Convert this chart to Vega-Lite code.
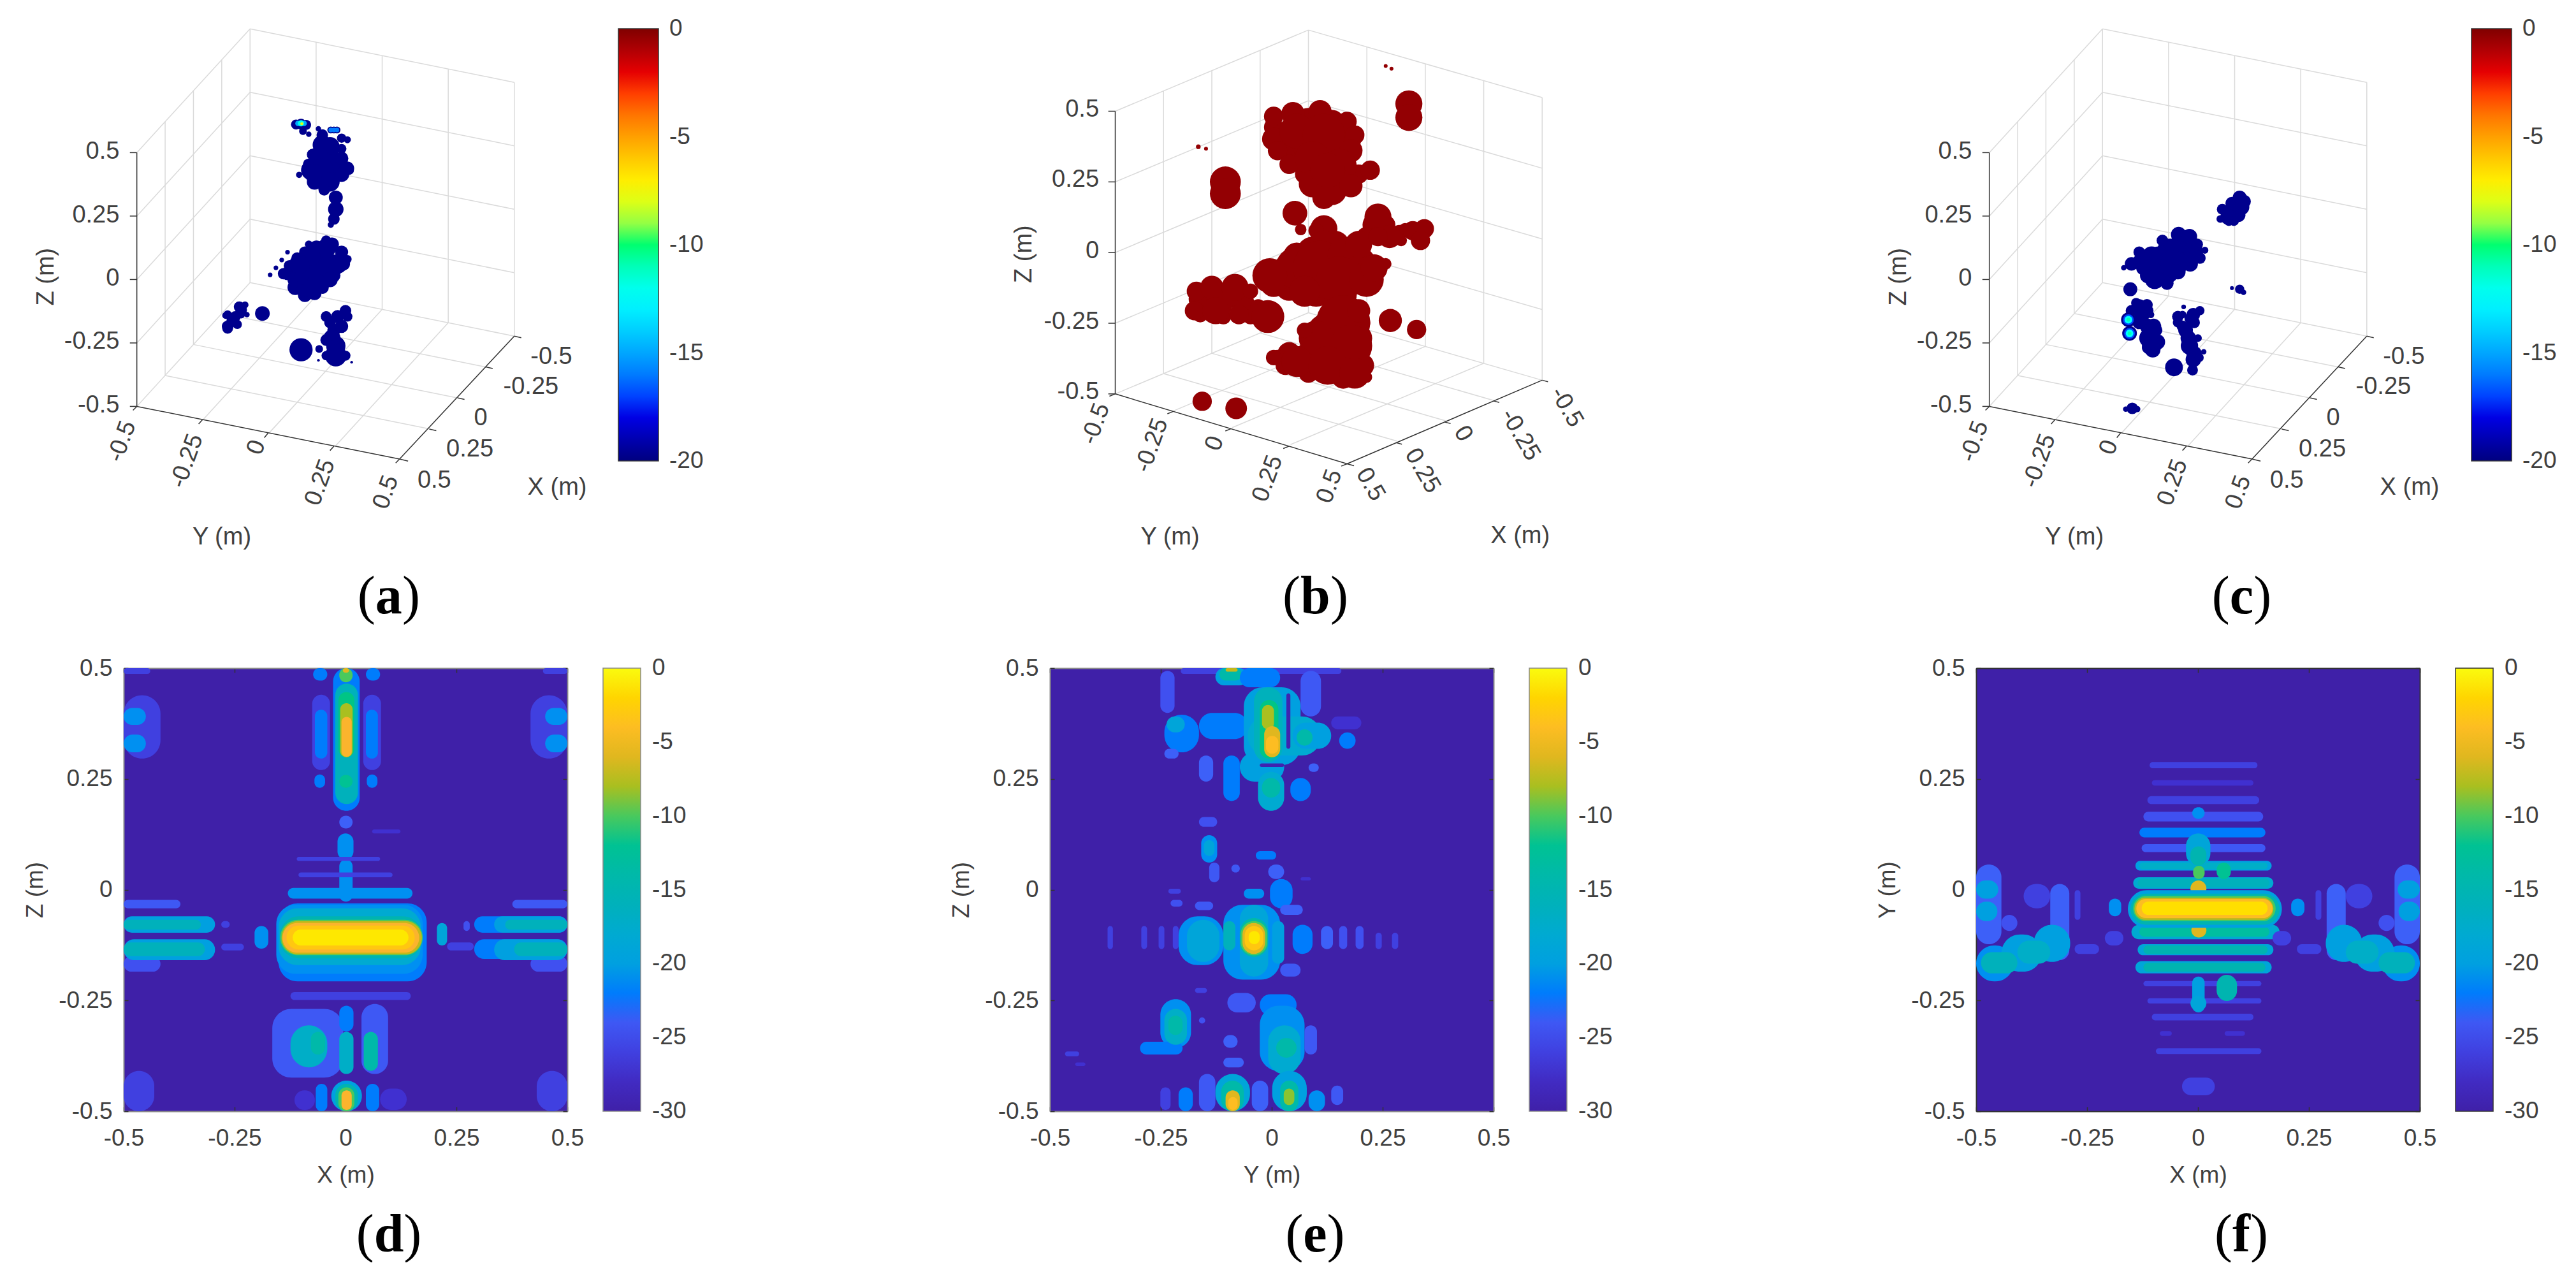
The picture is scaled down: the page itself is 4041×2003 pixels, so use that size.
{"$schema":"https://vega.github.io/schema/vega-lite/v6.json","background":"white","padding":{"left":36,"top":43,"right":0,"bottom":0},"bounds":"flush","columns":3,"spacing":{"row":105,"column":757},
"config":{"view":{"stroke":null},"font":"Liberation Sans","axis":{"grid":false,"labelFontSize":37,"titleFontSize":37,"labelColor":"#404040","titleColor":"#404040","titleFontWeight":"normal","tickColor":"#333333","tickWidth":1.5,"domainWidth":2,"labelFlush":false,"labelOverlap":false,"zindex":1},"legend":{"labelFontSize":37,"labelColor":"#404040"}},
"datasets":{
"frameAC":[{"a":183.25,"b":925.75,"c":183.25,"d":275.75},{"a":256.5,"b":846.5,"c":256.5,"d":196.5},{"a":329.75,"b":767.25,"c":329.75,"d":117.25},{"a":403,"b":688,"c":403,"d":38},{"a":574,"b":722.25,"c":574,"d":72.25},{"a":745,"b":756.5,"c":745,"d":106.5},{"a":916,"b":790.75,"c":916,"d":140.75},{"a":1087,"b":825,"c":1087,"d":175},{"a":110,"b":1005,"c":403,"d":688},{"a":110,"b":842.5,"c":403,"d":525.5},{"a":110,"b":680,"c":403,"d":363},{"a":110,"b":517.5,"c":403,"d":200.5},{"a":110,"b":355,"c":403,"d":38},{"a":403,"b":688,"c":1087,"d":825},{"a":403,"b":525.5,"c":1087,"d":662.5},{"a":403,"b":363,"c":1087,"d":500},{"a":403,"b":200.5,"c":1087,"d":337.5},{"a":403,"b":38,"c":1087,"d":175},{"a":183.25,"b":925.75,"c":867.25,"d":1062.75},{"a":256.5,"b":846.5,"c":940.5,"d":983.5},{"a":329.75,"b":767.25,"c":1013.75,"d":904.25},{"a":574,"b":722.25,"c":281,"d":1039.25},{"a":745,"b":756.5,"c":452,"d":1073.5},{"a":916,"b":790.75,"c":623,"d":1107.75}],
"axesAC":[{"a":110,"b":355,"c":110,"d":1005},{"a":110,"b":1005,"c":790,"d":1140},{"a":790,"b":1140,"c":1087,"d":825},{"a":110,"b":355,"c":92,"d":355},{"a":110,"b":517.5,"c":92,"d":517.5},{"a":110,"b":680,"c":92,"d":680},{"a":110,"b":842.5,"c":92,"d":842.5},{"a":110,"b":1005,"c":92,"d":1005},{"a":110,"b":1005,"c":100,"d":1015},{"a":280,"b":1039,"c":270,"d":1050},{"a":450,"b":1073,"c":440,"d":1085},{"a":620,"b":1107,"c":610,"d":1118},{"a":790,"b":1140,"c":780,"d":1150},{"a":1087,"b":825,"c":1105,"d":829},{"a":1013,"b":904,"c":1031,"d":908},{"a":940,"b":983,"c":958,"d":987},{"a":867,"b":1063,"c":885,"d":1067},{"a":790,"b":1140,"c":812,"d":1145}],
"frameB":[{"a":375,"b":921,"c":375,"d":197},{"a":500,"b":869,"c":500,"d":145},{"a":625,"b":817,"c":625,"d":93},{"a":750,"b":765,"c":750,"d":41},{"a":901.25,"b":808.25,"c":901.25,"d":84.25},{"a":1052.5,"b":851.5,"c":1052.5,"d":127.5},{"a":1203.75,"b":894.75,"c":1203.75,"d":170.75},{"a":1355,"b":938,"c":1355,"d":214},{"a":250,"b":973,"c":750,"d":765},{"a":250,"b":792,"c":750,"d":584},{"a":250,"b":611,"c":750,"d":403},{"a":250,"b":430,"c":750,"d":222},{"a":250,"b":249,"c":750,"d":41},{"a":750,"b":765,"c":1355,"d":938},{"a":750,"b":584,"c":1355,"d":757},{"a":750,"b":403,"c":1355,"d":576},{"a":750,"b":222,"c":1355,"d":395},{"a":750,"b":41,"c":1355,"d":214},{"a":375,"b":921,"c":980,"d":1094},{"a":500,"b":869,"c":1105,"d":1042},{"a":625,"b":817,"c":1230,"d":990},{"a":901.25,"b":808.25,"c":401.25,"d":1016.25},{"a":1052.5,"b":851.5,"c":552.5,"d":1059.5},{"a":1203.75,"b":894.75,"c":703.75,"d":1102.75}],
"axesB":[{"a":250,"b":249,"c":250,"d":973},{"a":250,"b":973,"c":850,"d":1152},{"a":850,"b":1152,"c":1355,"d":938},{"a":250,"b":249,"c":232,"d":249},{"a":250,"b":430,"c":232,"d":430},{"a":250,"b":611,"c":232,"d":611},{"a":250,"b":792,"c":232,"d":792},{"a":250,"b":973,"c":232,"d":973},{"a":250,"b":973,"c":235,"d":979},{"a":400,"b":1018,"c":385,"d":1024},{"a":550,"b":1062,"c":535,"d":1068},{"a":700,"b":1107,"c":685,"d":1113},{"a":850,"b":1152,"c":835,"d":1158},{"a":1355,"b":938,"c":1370,"d":942},{"a":1229,"b":991,"c":1244,"d":995},{"a":1103,"b":1045,"c":1118,"d":1049},{"a":977,"b":1098,"c":992,"d":1102},{"a":850,"b":1152,"c":868,"d":1157}],
"zAC":[{"t":"0.5","a":65,"b":353},{"t":"0.25","a":65,"b":516},{"t":"0","a":65,"b":678},{"t":"-0.25","a":65,"b":840},{"t":"-0.5","a":65,"b":1003}],
"hAC":[{"t":"-0.5","a":1183,"b":878},{"t":"-0.25","a":1130,"b":955},{"t":"0","a":1000,"b":1035},{"t":"0.25","a":972,"b":1115},{"t":"0.5","a":880,"b":1195},{"t":"X (m)","a":1198,"b":1213},{"t":"Y (m)","a":330,"b":1340}],
"rAC":[{"t":"-0.5","a":72,"b":1095},{"t":"-0.25","a":240,"b":1145},{"t":"0","a":420,"b":1110},{"t":"0.25","a":585,"b":1200},{"t":"0.5","a":755,"b":1225}],
"ztAC":[{"t":"Z (m)","a":-124,"b":673}],
"zB":[{"t":"0.5","a":208,"b":245},{"t":"0.25","a":208,"b":425},{"t":"0","a":208,"b":607},{"t":"-0.25","a":208,"b":788},{"t":"-0.5","a":208,"b":968}],
"hB":[{"t":"X (m)","a":1298,"b":1338},{"t":"Y (m)","a":392,"b":1340}],
"rB":[{"t":"-0.5","a":200,"b":1050},{"t":"-0.25","a":345,"b":1105},{"t":"0","a":508,"b":1100},{"t":"0.25","a":645,"b":1190},{"t":"0.5","a":805,"b":1210}],
"xB":[{"t":"-0.5","a":1418,"b":1007},{"t":"-0.25","a":1298,"b":1078},{"t":"0","a":1150,"b":1075},{"t":"0.25","a":1045,"b":1170},{"t":"0.5","a":910,"b":1205}],
"ztB":[{"t":"Z (m)","a":15,"b":615}],
"blobsA":[{"a":500,"b":665,"s":34,"v":-19.7},{"a":520,"b":700,"s":40,"v":-19.7},{"a":545,"b":720,"s":36,"v":-19.7},{"a":570,"b":715,"s":36,"v":-19.7},{"a":590,"b":700,"s":34,"v":-19.7},{"a":620,"b":670,"s":34,"v":-19.7},{"a":645,"b":640,"s":34,"v":-19.7},{"a":640,"b":610,"s":34,"v":-19.7},{"a":615,"b":590,"s":36,"v":-19.7},{"a":600,"b":580,"s":26,"v":-19.7},{"a":575,"b":600,"s":40,"v":-19.7},{"a":545,"b":610,"s":30,"v":-19.7},{"a":555,"b":590,"s":20,"v":-19.7},{"a":525,"b":625,"s":30,"v":-19.7},{"a":505,"b":645,"s":30,"v":-19.7},{"a":560,"b":660,"s":90,"v":-19.7},{"a":600,"b":650,"s":80,"v":-19.7},{"a":565,"b":360,"s":30,"v":-19.7},{"a":555,"b":385,"s":30,"v":-19.7},{"a":610,"b":340,"s":50,"v":-19.7},{"a":590,"b":310,"s":30,"v":-19.7},{"a":600,"b":370,"s":70,"v":-19.7},{"a":640,"b":345,"s":25,"v":-19.7},{"a":660,"b":400,"s":24,"v":-19.7},{"a":640,"b":410,"s":40,"v":-19.7},{"a":560,"b":400,"s":50,"v":-19.7},{"a":570,"b":430,"s":40,"v":-19.7},{"a":590,"b":420,"s":60,"v":-19.7},{"a":625,"b":400,"s":50,"v":-19.7},{"a":610,"b":385,"s":50,"v":-19.7},{"a":610,"b":790,"s":30,"v":-19.7},{"a":655,"b":775,"s":26,"v":-19.7},{"a":620,"b":810,"s":34,"v":-19.7},{"a":600,"b":835,"s":30,"v":-19.7},{"a":650,"b":875,"s":26,"v":-19.7},{"a":600,"b":875,"s":24,"v":-19.7},{"a":625,"b":850,"s":50,"v":-19.7},{"a":340,"b":772,"s":18,"v":-19.7},{"a":380,"b":758,"s":30,"v":-19.7},{"a":355,"b":785,"s":26,"v":-19.7},{"a":345,"b":800,"s":30,"v":-19.7},{"a":390,"b":745,"s":18,"v":-19.7},{"a":380,"b":770,"s":20,"v":-19.7},{"a":522,"b":283,"s":26,"v":-19.7},{"a":535,"b":282,"s":28,"v":-19.7},{"a":548,"b":284,"s":26,"v":-19.7},{"a":540,"b":300,"s":20,"v":-19.7},{"a":555,"b":308,"s":14,"v":-19.7},{"a":527,"b":280,"s":14,"v":-15},{"a":543,"b":280,"s":14,"v":-15},{"a":535,"b":280,"s":16,"v":-12},{"a":537,"b":281,"s":8,"v":-8},{"a":580,"b":294,"s":14,"v":-19.7},{"a":612,"b":297,"s":18,"v":-19.7},{"a":628,"b":297,"s":18,"v":-19.7},{"a":620,"b":297,"s":18,"v":-19.7},{"a":612,"b":297,"s":12,"v":-16},{"a":628,"b":297,"s":12,"v":-16},{"a":620,"b":297,"s":12,"v":-16},{"a":640,"b":318,"s":24,"v":-19.7},{"a":655,"b":322,"s":18,"v":-19.7},{"a":590,"b":335,"s":50,"v":-19.7},{"a":580,"b":365,"s":50,"v":-19.7},{"a":640,"b":370,"s":35,"v":-19.7},{"a":655,"b":395,"s":35,"v":-19.7},{"a":590,"b":400,"s":60,"v":-19.7},{"a":570,"b":410,"s":50,"v":-19.7},{"a":610,"b":430,"s":50,"v":-19.7},{"a":595,"b":450,"s":30,"v":-19.7},{"a":530,"b":412,"s":16,"v":-19.7},{"a":625,"b":350,"s":16,"v":-19.7},{"a":625,"b":470,"s":36,"v":-19.7},{"a":625,"b":500,"s":40,"v":-19.7},{"a":620,"b":525,"s":30,"v":-19.7},{"a":612,"b":540,"s":16,"v":-19.7},{"a":545,"b":700,"s":50,"v":-19.7},{"a":520,"b":680,"s":40,"v":-19.7},{"a":490,"b":665,"s":30,"v":-19.7},{"a":550,"b":660,"s":70,"v":-19.7},{"a":590,"b":640,"s":70,"v":-19.7},{"a":600,"b":600,"s":50,"v":-19.7},{"a":560,"b":620,"s":50,"v":-19.7},{"a":530,"b":640,"s":50,"v":-19.7},{"a":630,"b":640,"s":50,"v":-19.7},{"a":655,"b":628,"s":22,"v":-19.7},{"a":610,"b":680,"s":40,"v":-19.7},{"a":575,"b":690,"s":50,"v":-19.7},{"a":455,"b":668,"s":12,"v":-19.7},{"a":470,"b":650,"s":12,"v":-19.7},{"a":485,"b":630,"s":12,"v":-19.7},{"a":500,"b":610,"s":12,"v":-19.7},{"a":345,"b":770,"s":22,"v":-19.7},{"a":375,"b":750,"s":28,"v":-19.7},{"a":365,"b":775,"s":28,"v":-19.7},{"a":395,"b":770,"s":14,"v":-19.7},{"a":345,"b":805,"s":28,"v":-19.7},{"a":370,"b":795,"s":24,"v":-19.7},{"a":435,"b":767,"s":38,"v":-19.7},{"a":600,"b":775,"s":28,"v":-19.7},{"a":650,"b":760,"s":30,"v":-19.7},{"a":630,"b":775,"s":34,"v":-19.7},{"a":640,"b":800,"s":34,"v":-19.7},{"a":615,"b":830,"s":44,"v":-19.7},{"a":620,"b":850,"s":30,"v":-19.7},{"a":625,"b":875,"s":56,"v":-19.7},{"a":535,"b":860,"s":60,"v":-19.7},{"a":582,"b":858,"s":20,"v":-19.7},{"a":666,"b":892,"s":7,"v":-19.7},{"a":580,"b":887,"s":7,"v":-19.7}],
"blobsC":[{"a":560,"b":650,"s":90,"v":-19.7},{"a":600,"b":620,"s":80,"v":-19.7},{"a":530,"b":620,"s":50,"v":-19.7},{"a":510,"b":650,"s":40,"v":-19.7},{"a":500,"b":630,"s":34,"v":-19.7},{"a":520,"b":670,"s":40,"v":-19.7},{"a":570,"b":690,"s":34,"v":-19.7},{"a":630,"b":640,"s":40,"v":-19.7},{"a":655,"b":625,"s":30,"v":-19.7},{"a":600,"b":565,"s":40,"v":-19.7},{"a":745,"b":505,"s":40,"v":-19.7},{"a":735,"b":500,"s":30,"v":-19.7},{"a":770,"b":480,"s":34,"v":-19.7},{"a":755,"b":515,"s":36,"v":-19.7},{"a":730,"b":530,"s":26,"v":-19.7},{"a":505,"b":770,"s":40,"v":-19.7},{"a":490,"b":740,"s":26,"v":-19.7},{"a":520,"b":760,"s":30,"v":-19.7},{"a":520,"b":800,"s":40,"v":-19.7},{"a":535,"b":800,"s":40,"v":-19.7},{"a":530,"b":850,"s":50,"v":-19.7},{"a":545,"b":840,"s":40,"v":-19.7},{"a":520,"b":855,"s":30,"v":-19.7},{"a":610,"b":800,"s":30,"v":-19.7},{"a":640,"b":790,"s":30,"v":-19.7},{"a":625,"b":830,"s":40,"v":-19.7},{"a":640,"b":870,"s":40,"v":-19.7},{"a":610,"b":770,"s":20,"v":-19.7},{"a":655,"b":760,"s":24,"v":-19.7},{"a":630,"b":780,"s":30,"v":-19.7},{"a":650,"b":830,"s":20,"v":-19.7},{"a":665,"b":865,"s":14,"v":-19.7},{"a":758,"b":470,"s":36,"v":-19.7},{"a":738,"b":485,"s":34,"v":-19.7},{"a":713,"b":500,"s":28,"v":-19.7},{"a":763,"b":495,"s":40,"v":-19.7},{"a":728,"b":520,"s":40,"v":-19.7},{"a":708,"b":525,"s":20,"v":-19.7},{"a":743,"b":530,"s":26,"v":-19.7},{"a":758,"b":705,"s":24,"v":-19.7},{"a":738,"b":702,"s":10,"v":-19.7},{"a":768,"b":713,"s":14,"v":-19.7},{"a":608,"b":590,"s":60,"v":-19.7},{"a":578,"b":610,"s":70,"v":-19.7},{"a":548,"b":630,"s":70,"v":-19.7},{"a":518,"b":640,"s":60,"v":-19.7},{"a":588,"b":640,"s":70,"v":-19.7},{"a":638,"b":610,"s":50,"v":-19.7},{"a":628,"b":570,"s":40,"v":-19.7},{"a":498,"b":610,"s":30,"v":-19.7},{"a":478,"b":640,"s":35,"v":-19.7},{"a":458,"b":650,"s":14,"v":-19.7},{"a":538,"b":680,"s":50,"v":-19.7},{"a":598,"b":660,"s":40,"v":-19.7},{"a":668,"b":605,"s":18,"v":-19.7},{"a":648,"b":590,"s":30,"v":-19.7},{"a":558,"b":580,"s":30,"v":-19.7},{"a":475,"b":705,"s":36,"v":-19.7},{"a":498,"b":750,"s":40,"v":-19.7},{"a":518,"b":745,"s":30,"v":-19.7},{"a":478,"b":760,"s":30,"v":-19.7},{"a":528,"b":770,"s":18,"v":-19.7},{"a":498,"b":790,"s":35,"v":-19.7},{"a":523,"b":830,"s":50,"v":-19.7},{"a":533,"b":860,"s":40,"v":-19.7},{"a":543,"b":810,"s":30,"v":-19.7},{"a":470,"b":783,"s":38,"v":-19.7},{"a":473,"b":818,"s":38,"v":-19.7},{"a":470,"b":783,"s":28,"v":-17},{"a":473,"b":818,"s":28,"v":-17},{"a":470,"b":783,"s":20,"v":-12.5},{"a":473,"b":818,"s":20,"v":-12.5},{"a":470,"b":783,"s":10,"v":-11},{"a":473,"b":818,"s":10,"v":-11},{"a":598,"b":775,"s":30,"v":-19.7},{"a":638,"b":770,"s":35,"v":-19.7},{"a":613,"b":750,"s":12,"v":-19.7},{"a":618,"b":810,"s":38,"v":-19.7},{"a":628,"b":850,"s":45,"v":-19.7},{"a":638,"b":885,"s":40,"v":-19.7},{"a":653,"b":880,"s":24,"v":-19.7},{"a":636,"b":912,"s":28,"v":-19.7},{"a":588,"b":905,"s":46,"v":-19.7},{"a":598,"b":790,"s":26,"v":-19.7},{"a":480,"b":1010,"s":30,"v":-19.7},{"a":463,"b":1012,"s":14,"v":-19.7},{"a":493,"b":1012,"s":16,"v":-19.7}],
"blobsB":[{"a":750,"b":280,"s":80,"v":-0.4},{"a":810,"b":280,"s":70,"v":-0.4},{"a":700,"b":330,"s":70,"v":-0.4},{"a":850,"b":330,"s":70,"v":-0.4},{"a":780,"b":340,"s":110,"v":-0.4},{"a":720,"b":370,"s":60,"v":-0.4},{"a":840,"b":420,"s":80,"v":-0.4},{"a":740,"b":410,"s":50,"v":-0.4},{"a":880,"b":410,"s":50,"v":-0.4},{"a":790,"b":470,"s":60,"v":-0.4},{"a":700,"b":350,"s":40,"v":-0.4},{"a":660,"b":290,"s":50,"v":-0.4},{"a":810,"b":420,"s":100,"v":-0.4},{"a":750,"b":340,"s":80,"v":-0.4},{"a":660,"b":690,"s":70,"v":-0.4},{"a":700,"b":700,"s":70,"v":-0.4},{"a":720,"b":620,"s":70,"v":-0.4},{"a":770,"b":700,"s":100,"v":-0.4},{"a":840,"b":720,"s":70,"v":-0.4},{"a":880,"b":640,"s":90,"v":-0.4},{"a":760,"b":610,"s":80,"v":-0.4},{"a":820,"b":590,"s":70,"v":-0.4},{"a":800,"b":670,"s":120,"v":-0.4},{"a":700,"b":660,"s":90,"v":-0.4},{"a":950,"b":640,"s":30,"v":-0.4},{"a":920,"b":540,"s":60,"v":-0.4},{"a":900,"b":570,"s":50,"v":-0.4},{"a":950,"b":540,"s":50,"v":-0.4},{"a":985,"b":560,"s":40,"v":-0.4},{"a":1000,"b":550,"s":30,"v":-0.4},{"a":1040,"b":560,"s":50,"v":-0.4},{"a":990,"b":580,"s":30,"v":-0.4},{"a":470,"b":730,"s":60,"v":-0.4},{"a":530,"b":720,"s":60,"v":-0.4},{"a":580,"b":740,"s":60,"v":-0.4},{"a":520,"b":740,"s":70,"v":-0.4},{"a":470,"b":770,"s":40,"v":-0.4},{"a":530,"b":775,"s":40,"v":-0.4},{"a":620,"b":750,"s":40,"v":-0.4},{"a":600,"b":775,"s":40,"v":-0.4},{"a":830,"b":750,"s":50,"v":-0.4},{"a":870,"b":790,"s":80,"v":-0.4},{"a":800,"b":820,"s":110,"v":-0.4},{"a":880,"b":830,"s":70,"v":-0.4},{"a":820,"b":880,"s":120,"v":-0.4},{"a":760,"b":880,"s":90,"v":-0.4},{"a":700,"b":870,"s":60,"v":-0.4},{"a":750,"b":920,"s":50,"v":-0.4},{"a":840,"b":930,"s":60,"v":-0.4},{"a":890,"b":900,"s":60,"v":-0.4},{"a":690,"b":900,"s":50,"v":-0.4},{"a":670,"b":880,"s":40,"v":-0.4},{"a":760,"b":850,"s":60,"v":-0.4},{"a":900,"b":930,"s":30,"v":-0.4},{"a":660,"b":262,"s":50,"v":-0.4},{"a":710,"b":255,"s":60,"v":-0.4},{"a":780,"b":250,"s":60,"v":-0.4},{"a":850,"b":275,"s":50,"v":-0.4},{"a":660,"b":320,"s":60,"v":-0.4},{"a":870,"b":310,"s":50,"v":-0.4},{"a":670,"b":350,"s":50,"v":-0.4},{"a":720,"b":300,"s":90,"v":-0.4},{"a":790,"b":310,"s":110,"v":-0.4},{"a":860,"b":350,"s":60,"v":-0.4},{"a":700,"b":385,"s":50,"v":-0.4},{"a":760,"b":370,"s":90,"v":-0.4},{"a":830,"b":390,"s":90,"v":-0.4},{"a":910,"b":400,"s":50,"v":-0.4},{"a":760,"b":435,"s":70,"v":-0.4},{"a":810,"b":450,"s":80,"v":-0.4},{"a":860,"b":440,"s":60,"v":-0.4},{"a":800,"b":400,"s":90,"v":-0.4},{"a":715,"b":510,"s":64,"v":-0.4},{"a":730,"b":552,"s":30,"v":-0.4},{"a":790,"b":550,"s":70,"v":-0.4},{"a":770,"b":555,"s":40,"v":-0.4},{"a":1010,"b":230,"s":70,"v":-0.4},{"a":1010,"b":265,"s":70,"v":-0.4},{"a":535,"b":430,"s":80,"v":-0.4},{"a":535,"b":460,"s":80,"v":-0.4},{"a":465,"b":340,"s":12,"v":-0.4},{"a":485,"b":345,"s":10,"v":-0.4},{"a":965,"b":140,"s":10,"v":-0.4},{"a":950,"b":133,"s":10,"v":-0.4},{"a":790,"b":600,"s":90,"v":-0.4},{"a":720,"b":650,"s":110,"v":-0.4},{"a":650,"b":670,"s":90,"v":-0.4},{"a":780,"b":650,"s":140,"v":-0.4},{"a":850,"b":620,"s":100,"v":-0.4},{"a":830,"b":680,"s":120,"v":-0.4},{"a":900,"b":680,"s":90,"v":-0.4},{"a":740,"b":710,"s":80,"v":-0.4},{"a":920,"b":650,"s":70,"v":-0.4},{"a":880,"b":590,"s":70,"v":-0.4},{"a":930,"b":520,"s":70,"v":-0.4},{"a":960,"b":570,"s":60,"v":-0.4},{"a":1020,"b":555,"s":50,"v":-0.4},{"a":1050,"b":550,"s":50,"v":-0.4},{"a":1040,"b":580,"s":50,"v":-0.4},{"a":930,"b":570,"s":50,"v":-0.4},{"a":460,"b":710,"s":50,"v":-0.4},{"a":500,"b":700,"s":60,"v":-0.4},{"a":560,"b":700,"s":70,"v":-0.4},{"a":600,"b":710,"s":40,"v":-0.4},{"a":455,"b":760,"s":50,"v":-0.4},{"a":510,"b":760,"s":70,"v":-0.4},{"a":570,"b":770,"s":50,"v":-0.4},{"a":645,"b":775,"s":85,"v":-0.4},{"a":840,"b":790,"s":140,"v":-0.4},{"a":770,"b":830,"s":90,"v":-0.4},{"a":860,"b":850,"s":110,"v":-0.4},{"a":720,"b":890,"s":80,"v":-0.4},{"a":800,"b":900,"s":100,"v":-0.4},{"a":870,"b":920,"s":80,"v":-0.4},{"a":660,"b":880,"s":40,"v":-0.4},{"a":740,"b":810,"s":40,"v":-0.4},{"a":880,"b":760,"s":60,"v":-0.4},{"a":962,"b":785,"s":60,"v":-0.4},{"a":1030,"b":808,"s":50,"v":-0.4},{"a":475,"b":992,"s":50,"v":-0.4},{"a":563,"b":1010,"s":56,"v":-0.4}],
"heatD":[{"a":-0.5,"b":-0.417,"c":0.439,"d":0.296,"v":-26},{"a":0.417,"b":0.5,"c":0.439,"d":0.296,"v":-26},{"a":-0.5,"b":-0.45,"c":0.41,"d":0.372,"v":-21},{"a":-0.5,"b":-0.45,"c":0.35,"d":0.31,"v":-21},{"a":0.45,"b":0.5,"c":0.41,"d":0.372,"v":-21},{"a":0.45,"b":0.5,"c":0.35,"d":0.31,"v":-21},{"a":-0.5,"b":-0.431,"c":-0.409,"d":-0.5,"v":-26},{"a":0.431,"b":0.5,"c":-0.409,"d":-0.5,"v":-26},{"a":-0.5,"b":-0.44,"c":0.5,"d":0.487,"v":-26},{"a":0.445,"b":0.5,"c":0.5,"d":0.487,"v":-26},{"a":-0.075,"b":-0.035,"c":0.44,"d":0.27,"v":-26},{"a":0.04,"b":0.08,"c":0.44,"d":0.27,"v":-26},{"a":-0.069,"b":-0.041,"c":0.406,"d":0.296,"v":-22},{"a":0.046,"b":0.073,"c":0.406,"d":0.296,"v":-22},{"a":-0.07,"b":-0.046,"c":0.26,"d":0.23,"v":-22},{"a":0.048,"b":0.072,"c":0.26,"d":0.23,"v":-22},{"a":-0.073,"b":-0.041,"c":0.5,"d":0.472,"v":-22},{"a":0.046,"b":0.078,"c":0.5,"d":0.472,"v":-22},{"a":-0.028,"b":0.032,"c":0.5,"d":0.178,"v":-22},{"a":-0.023,"b":0.028,"c":0.465,"d":0.193,"v":-16},{"a":-0.016,"b":0.02,"c":0.446,"d":0.299,"v":-11},{"a":-0.012,"b":0.016,"c":0.421,"d":0.299,"v":-8},{"a":-0.009,"b":0.014,"c":0.39,"d":0.3,"v":-5},{"a":-0.014,"b":0.016,"c":0.5,"d":0.468,"v":-10},{"a":-0.006,"b":0.008,"c":0.5,"d":0.49,"v":-6},{"a":-0.014,"b":0.016,"c":0.259,"d":0.23,"v":-12},{"a":-0.014,"b":0.016,"c":0.167,"d":0.138,"v":-23},{"a":-0.018,"b":0.018,"c":0.127,"d":0.068,"v":-21},{"a":-0.014,"b":0.016,"c":0.068,"d":-0.027,"v":-21},{"a":-0.13,"b":0.151,"c":0.004,"d":-0.02,"v":-21},{"a":-0.11,"b":0.078,"c":0.074,"d":0.065,"v":-26},{"a":-0.106,"b":0.106,"c":0.039,"d":0.028,"v":-26},{"a":0.06,"b":0.124,"c":0.136,"d":0.127,"v":-27},{"a":-0.5,"b":-0.372,"c":-0.023,"d":-0.042,"v":-24},{"a":-0.5,"b":-0.417,"c":-0.15,"d":-0.185,"v":-25},{"a":-0.5,"b":-0.294,"c":-0.06,"d":-0.097,"v":-20},{"a":-0.5,"b":-0.326,"c":-0.068,"d":-0.09,"v":-16},{"a":-0.5,"b":-0.294,"c":-0.112,"d":-0.159,"v":-20},{"a":-0.5,"b":-0.317,"c":-0.119,"d":-0.15,"v":-16},{"a":0.376,"b":0.5,"c":-0.023,"d":-0.042,"v":-24},{"a":0.417,"b":0.5,"c":-0.15,"d":-0.185,"v":-25},{"a":0.29,"b":0.5,"c":-0.06,"d":-0.097,"v":-22},{"a":0.335,"b":0.5,"c":-0.06,"d":-0.097,"v":-20},{"a":0.36,"b":0.5,"c":-0.068,"d":-0.09,"v":-16},{"a":0.29,"b":0.5,"c":-0.112,"d":-0.156,"v":-22},{"a":0.335,"b":0.5,"c":-0.112,"d":-0.159,"v":-20},{"a":0.38,"b":0.5,"c":-0.119,"d":-0.15,"v":-16},{"a":-0.205,"b":-0.174,"c":-0.082,"d":-0.133,"v":-21},{"a":0.206,"b":0.229,"c":-0.075,"d":-0.126,"v":-19},{"a":0.266,"b":0.28,"c":-0.071,"d":-0.093,"v":-25},{"a":-0.28,"b":-0.261,"c":-0.071,"d":-0.086,"v":-26},{"a":-0.28,"b":-0.229,"c":-0.122,"d":-0.137,"v":-26},{"a":0.229,"b":0.289,"c":-0.119,"d":-0.137,"v":-26},{"a":-0.151,"b":0.183,"c":-0.031,"d":-0.207,"v":-22},{"a":-0.156,"b":0.174,"c":-0.034,"d":-0.19,"v":-21},{"a":-0.151,"b":0.17,"c":-0.042,"d":-0.17,"v":-18},{"a":-0.148,"b":0.172,"c":-0.06,"d":-0.155,"v":-15},{"a":-0.147,"b":0.174,"c":-0.068,"d":-0.148,"v":-10},{"a":-0.144,"b":0.172,"c":-0.071,"d":-0.146,"v":-7},{"a":-0.142,"b":0.166,"c":-0.075,"d":-0.142,"v":-5},{"a":-0.133,"b":0.156,"c":-0.081,"d":-0.135,"v":-3},{"a":-0.119,"b":0.142,"c":-0.09,"d":-0.126,"v":-1},{"a":-0.124,"b":0.147,"c":-0.231,"d":-0.249,"v":-26},{"a":-0.165,"b":-0.005,"c":-0.269,"d":-0.424,"v":-24},{"a":0.036,"b":0.096,"c":-0.258,"d":-0.416,"v":-24},{"a":-0.014,"b":0.018,"c":-0.262,"d":-0.32,"v":-22},{"a":-0.124,"b":-0.041,"c":-0.306,"d":-0.401,"v":-17},{"a":-0.078,"b":-0.046,"c":-0.321,"d":-0.372,"v":-14},{"a":0.041,"b":0.073,"c":-0.321,"d":-0.409,"v":-14},{"a":-0.014,"b":0.018,"c":-0.321,"d":-0.416,"v":-17},{"a":-0.115,"b":-0.069,"c":-0.453,"d":-0.497,"v":-27},{"a":0.078,"b":0.138,"c":-0.449,"d":-0.497,"v":-27},{"a":-0.067,"b":-0.041,"c":-0.438,"d":-0.5,"v":-22},{"a":0.046,"b":0.076,"c":-0.438,"d":-0.5,"v":-22},{"a":-0.032,"b":0.037,"c":-0.431,"d":-0.5,"v":-20},{"a":-0.023,"b":0.028,"c":-0.438,"d":-0.5,"v":-15},{"a":-0.016,"b":0.02,"c":-0.446,"d":-0.5,"v":-10},{"a":-0.009,"b":0.014,"c":-0.453,"d":-0.497,"v":-5}],
"heatE":[{"a":-0.251,"b":-0.219,"c":0.494,"d":0.399,"v":-25},{"a":-0.242,"b":-0.164,"c":0.395,"d":0.31,"v":-22},{"a":-0.237,"b":-0.196,"c":0.391,"d":0.355,"v":-19},{"a":-0.242,"b":-0.21,"c":0.318,"d":0.296,"v":-23},{"a":-0.164,"b":-0.054,"c":0.399,"d":0.34,"v":-22},{"a":-0.205,"b":0.157,"c":0.5,"d":0.487,"v":-26},{"a":0.065,"b":0.111,"c":0.494,"d":0.391,"v":-24},{"a":-0.127,"b":-0.054,"c":0.5,"d":0.461,"v":-20},{"a":-0.118,"b":-0.068,"c":0.5,"d":0.472,"v":-14},{"a":-0.104,"b":-0.077,"c":0.5,"d":0.492,"v":-7},{"a":-0.072,"b":0.019,"c":0.5,"d":0.457,"v":-22},{"a":-0.063,"b":0.065,"c":0.457,"d":0.281,"v":-20},{"a":-0.054,"b":0.111,"c":0.391,"d":0.303,"v":-18},{"a":0.047,"b":0.134,"c":0.377,"d":0.318,"v":-20},{"a":0.056,"b":0.092,"c":0.362,"d":0.325,"v":-14},{"a":-0.072,"b":0.028,"c":0.31,"d":0.244,"v":-20},{"a":-0.031,"b":0.028,"c":0.266,"d":0.178,"v":-18},{"a":-0.022,"b":0.019,"c":0.252,"d":0.208,"v":-14},{"a":-0.109,"b":-0.072,"c":0.303,"d":0.2,"v":-22},{"a":-0.164,"b":-0.132,"c":0.303,"d":0.244,"v":-23},{"a":0.042,"b":0.088,"c":0.252,"d":0.2,"v":-22},{"a":0.083,"b":0.106,"c":0.285,"d":0.266,"v":-23},{"a":0.152,"b":0.189,"c":0.355,"d":0.318,"v":-22},{"a":0.134,"b":0.202,"c":0.391,"d":0.362,"v":-27},{"a":0.033,"b":0.042,"c":0.443,"d":0.318,"v":-29.5},{"a":-0.027,"b":0.028,"c":0.285,"d":0.277,"v":-29.5},{"a":-0.04,"b":0.024,"c":0.457,"d":0.288,"v":-16},{"a":-0.027,"b":0.015,"c":0.428,"d":0.296,"v":-11},{"a":-0.022,"b":0.005,"c":0.417,"d":0.362,"v":-8},{"a":-0.017,"b":0.019,"c":0.369,"d":0.299,"v":-6},{"a":-0.013,"b":0.015,"c":0.347,"d":0.307,"v":-4},{"a":-0.164,"b":-0.123,"c":0.164,"d":0.142,"v":-25},{"a":-0.159,"b":-0.123,"c":0.123,"d":0.061,"v":-21},{"a":-0.153,"b":-0.129,"c":0.112,"d":0.076,"v":-19},{"a":-0.141,"b":-0.118,"c":0.061,"d":0.017,"v":-24},{"a":-0.036,"b":0.01,"c":0.087,"d":0.068,"v":-22},{"a":-0.008,"b":0.028,"c":0.057,"d":0.024,"v":-23},{"a":-0.004,"b":0.047,"c":0.024,"d":-0.042,"v":-22},{"a":0.019,"b":0.07,"c":-0.034,"d":-0.057,"v":-23},{"a":-0.063,"b":-0.017,"c":0.002,"d":-0.02,"v":-21},{"a":-0.091,"b":-0.072,"c":0.057,"d":0.039,"v":-24},{"a":-0.233,"b":-0.205,"c":0.002,"d":-0.009,"v":-26},{"a":-0.228,"b":-0.201,"c":-0.023,"d":-0.038,"v":-25},{"a":-0.173,"b":-0.132,"c":-0.027,"d":-0.046,"v":-24},{"a":0.065,"b":0.088,"c":0.028,"d":0.021,"v":-27},{"a":-0.37,"b":-0.358,"c":-0.082,"d":-0.134,"v":-26},{"a":-0.294,"b":-0.281,"c":-0.082,"d":-0.134,"v":-26},{"a":-0.255,"b":-0.242,"c":-0.082,"d":-0.134,"v":-26},{"a":-0.223,"b":-0.21,"c":-0.082,"d":-0.134,"v":-26},{"a":0.111,"b":0.138,"c":-0.082,"d":-0.134,"v":-23},{"a":0.152,"b":0.17,"c":-0.082,"d":-0.134,"v":-25},{"a":0.189,"b":0.207,"c":-0.082,"d":-0.134,"v":-25},{"a":0.234,"b":0.248,"c":-0.097,"d":-0.134,"v":-26},{"a":0.271,"b":0.285,"c":-0.097,"d":-0.134,"v":-26},{"a":-0.21,"b":-0.109,"c":-0.06,"d":-0.17,"v":-21},{"a":-0.191,"b":-0.118,"c":-0.068,"d":-0.163,"v":-19},{"a":-0.109,"b":0.019,"c":-0.034,"d":-0.203,"v":-21},{"a":-0.072,"b":-0.008,"c":-0.034,"d":-0.196,"v":-19},{"a":0.001,"b":0.028,"c":-0.071,"d":-0.167,"v":-20},{"a":0.047,"b":0.092,"c":-0.079,"d":-0.145,"v":-22},{"a":0.019,"b":0.065,"c":-0.167,"d":-0.196,"v":-24},{"a":-0.109,"b":-0.082,"c":-0.071,"d":-0.137,"v":-16},{"a":-0.072,"b":-0.008,"c":-0.064,"d":-0.152,"v":-14},{"a":-0.07,"b":-0.01,"c":-0.071,"d":-0.148,"v":-10},{"a":-0.066,"b":-0.015,"c":-0.075,"d":-0.145,"v":-6},{"a":-0.061,"b":-0.019,"c":-0.082,"d":-0.137,"v":-3},{"a":-0.052,"b":-0.027,"c":-0.093,"d":-0.123,"v":-1},{"a":-0.1,"b":-0.036,"c":-0.233,"d":-0.277,"v":-24},{"a":-0.173,"b":-0.146,"c":-0.222,"d":-0.233,"v":-26},{"a":-0.027,"b":0.056,"c":-0.236,"d":-0.284,"v":-22},{"a":-0.027,"b":0.074,"c":-0.262,"d":-0.409,"v":-21},{"a":-0.008,"b":0.065,"c":-0.306,"d":-0.416,"v":-18},{"a":0.01,"b":0.056,"c":-0.335,"d":-0.379,"v":-14},{"a":-0.251,"b":-0.182,"c":-0.247,"d":-0.357,"v":-21},{"a":-0.297,"b":-0.201,"c":-0.343,"d":-0.372,"v":-22},{"a":-0.242,"b":-0.191,"c":-0.269,"d":-0.35,"v":-17},{"a":-0.233,"b":-0.201,"c":-0.284,"d":-0.328,"v":-14},{"a":-0.466,"b":-0.434,"c":-0.365,"d":-0.376,"v":-26},{"a":-0.443,"b":-0.42,"c":-0.39,"d":-0.398,"v":-27},{"a":-0.109,"b":-0.077,"c":-0.328,"d":-0.357,"v":-23},{"a":-0.109,"b":-0.063,"c":-0.379,"d":-0.401,"v":-23},{"a":0.074,"b":0.102,"c":-0.306,"d":-0.372,"v":-24},{"a":-0.164,"b":-0.15,"c":-0.288,"d":-0.302,"v":-25},{"a":-0.164,"b":-0.127,"c":-0.416,"d":-0.5,"v":-24},{"a":-0.21,"b":-0.178,"c":-0.446,"d":-0.5,"v":-22},{"a":-0.251,"b":-0.228,"c":-0.446,"d":-0.497,"v":-26},{"a":-0.045,"b":-0.008,"c":-0.431,"d":-0.5,"v":-23},{"a":0.083,"b":0.12,"c":-0.453,"d":-0.5,"v":-21},{"a":0.134,"b":0.161,"c":-0.442,"d":-0.486,"v":-24},{"a":0.001,"b":0.079,"c":-0.409,"d":-0.5,"v":-20},{"a":0.019,"b":0.06,"c":-0.431,"d":-0.5,"v":-14},{"a":0.027,"b":0.051,"c":-0.449,"d":-0.486,"v":-9},{"a":-0.127,"b":-0.049,"c":-0.416,"d":-0.5,"v":-19},{"a":-0.114,"b":-0.063,"c":-0.431,"d":-0.5,"v":-14},{"a":-0.104,"b":-0.072,"c":-0.453,"d":-0.5,"v":-6},{"a":-0.098,"b":-0.077,"c":-0.468,"d":-0.497,"v":-4}],
"heatF":[{"a":-0.109,"b":0.134,"c":0.288,"d":0.274,"v":-26},{"a":-0.104,"b":0.125,"c":0.247,"d":0.235,"v":-27},{"a":-0.114,"b":0.138,"c":0.211,"d":0.193,"v":-26},{"a":-0.123,"b":0.147,"c":0.176,"d":0.154,"v":-25},{"a":-0.132,"b":0.152,"c":0.14,"d":0.118,"v":-22},{"a":-0.127,"b":0.152,"c":0.103,"d":0.085,"v":-24},{"a":-0.141,"b":0.166,"c":0.065,"d":0.043,"v":-20},{"a":-0.132,"b":0.157,"c":0.061,"d":0.046,"v":-17},{"a":-0.146,"b":0.17,"c":0.028,"d":0.002,"v":-18},{"a":-0.136,"b":0.161,"c":0.024,"d":0.006,"v":-16},{"a":-0.013,"b":0.015,"c":0.186,"d":0.16,"v":-21},{"a":-0.027,"b":0.028,"c":0.127,"d":0.054,"v":-19},{"a":-0.017,"b":0.019,"c":0.098,"d":0.054,"v":-15},{"a":-0.011,"b":0.015,"c":0.054,"d":0.024,"v":-10},{"a":0.042,"b":0.074,"c":0.061,"d":0.024,"v":-12},{"a":-0.017,"b":0.019,"c":0.021,"d":-0.016,"v":-6},{"a":-0.15,"b":0.184,"c":-0.079,"d":-0.112,"v":-18},{"a":-0.132,"b":0.161,"c":-0.084,"d":-0.106,"v":-13},{"a":-0.136,"b":0.17,"c":-0.123,"d":-0.148,"v":-19},{"a":-0.123,"b":0.157,"c":-0.126,"d":-0.145,"v":-15},{"a":-0.141,"b":0.166,"c":-0.161,"d":-0.189,"v":-19},{"a":-0.123,"b":0.152,"c":-0.165,"d":-0.185,"v":-15},{"a":-0.015,"b":0.019,"c":-0.075,"d":-0.108,"v":-6},{"a":-0.158,"b":0.189,"c":-0.001,"d":-0.086,"v":-20},{"a":-0.152,"b":0.184,"c":-0.009,"d":-0.079,"v":-15},{"a":-0.146,"b":0.175,"c":-0.014,"d":-0.071,"v":-10},{"a":-0.143,"b":0.17,"c":-0.018,"d":-0.068,"v":-7},{"a":-0.139,"b":0.168,"c":-0.021,"d":-0.064,"v":-4},{"a":-0.127,"b":0.157,"c":-0.027,"d":-0.057,"v":-1.5},{"a":-0.123,"b":0.143,"c":-0.206,"d":-0.218,"v":-26},{"a":-0.114,"b":0.143,"c":-0.245,"d":-0.257,"v":-26},{"a":-0.104,"b":0.125,"c":-0.28,"d":-0.295,"v":-26},{"a":-0.086,"b":-0.059,"c":-0.319,"d":-0.33,"v":-27},{"a":0.06,"b":0.106,"c":-0.319,"d":-0.33,"v":-27},{"a":-0.095,"b":0.143,"c":-0.358,"d":-0.371,"v":-26},{"a":-0.013,"b":0.015,"c":-0.196,"d":-0.277,"v":-20},{"a":-0.017,"b":0.019,"c":-0.24,"d":-0.273,"v":-19},{"a":0.042,"b":0.088,"c":-0.192,"d":-0.251,"v":-15},{"a":-0.036,"b":0.038,"c":-0.424,"d":-0.464,"v":-26},{"a":-0.5,"b":-0.443,"c":0.057,"d":-0.123,"v":-23},{"a":-0.443,"b":-0.407,"c":-0.057,"d":-0.093,"v":-25},{"a":-0.393,"b":-0.333,"c":0.013,"d":-0.042,"v":-26},{"a":-0.333,"b":-0.29,"c":0.013,"d":-0.159,"v":-23},{"a":-0.5,"b":-0.416,"c":-0.126,"d":-0.207,"v":-21},{"a":-0.443,"b":-0.352,"c":-0.101,"d":-0.185,"v":-20},{"a":-0.37,"b":-0.288,"c":-0.079,"d":-0.163,"v":-20},{"a":-0.489,"b":-0.407,"c":-0.141,"d":-0.189,"v":-16},{"a":-0.407,"b":-0.333,"c":-0.115,"d":-0.167,"v":-17},{"a":-0.5,"b":-0.45,"c":0.021,"d":-0.02,"v":-20},{"a":-0.5,"b":-0.452,"c":-0.027,"d":-0.071,"v":-20},{"a":-0.278,"b":-0.265,"c":-0.001,"d":-0.068,"v":-26},{"a":-0.201,"b":-0.173,"c":-0.02,"d":-0.06,"v":-21},{"a":-0.278,"b":-0.223,"c":-0.123,"d":-0.145,"v":-26},{"a":-0.21,"b":-0.168,"c":-0.093,"d":-0.126,"v":-26},{"a":0.443,"b":0.5,"c":0.057,"d":-0.123,"v":-23},{"a":0.407,"b":0.443,"c":-0.057,"d":-0.093,"v":-25},{"a":0.333,"b":0.393,"c":0.013,"d":-0.042,"v":-26},{"a":0.29,"b":0.333,"c":0.013,"d":-0.159,"v":-23},{"a":0.416,"b":0.5,"c":-0.126,"d":-0.207,"v":-21},{"a":0.352,"b":0.443,"c":-0.101,"d":-0.185,"v":-20},{"a":0.288,"b":0.37,"c":-0.079,"d":-0.163,"v":-20},{"a":0.407,"b":0.489,"c":-0.141,"d":-0.189,"v":-16},{"a":0.333,"b":0.407,"c":-0.115,"d":-0.167,"v":-17},{"a":0.45,"b":0.5,"c":0.021,"d":-0.02,"v":-20},{"a":0.452,"b":0.5,"c":-0.027,"d":-0.071,"v":-20},{"a":0.265,"b":0.278,"c":-0.001,"d":-0.068,"v":-26},{"a":0.21,"b":0.24,"c":-0.02,"d":-0.06,"v":-21},{"a":0.223,"b":0.278,"c":-0.123,"d":-0.145,"v":-26},{"a":0.168,"b":0.21,"c":-0.093,"d":-0.126,"v":-26}]
},
"concat":[
{"width":696,"height":900,"layer":[
{"data":{"name":"frameAC"},"mark":{"type":"rule","color":"#dadada","strokeWidth":1.5},"encoding":{"x":{"field":"a","type":"quantitative","scale":{"domain":[75.9,1224.3],"nice":false,"zero":false},"axis":null},"x2":{"field":"c"},"y":{"field":"b","type":"quantitative","scale":{"domain":[1504,34.3],"nice":false,"zero":false},"axis":null},"y2":{"field":"d"}}},
{"data":{"name":"blobsA"},"mark":{"type":"circle","opacity":1},"encoding":{"x":{"field":"a","type":"quantitative"},"y":{"field":"b","type":"quantitative"},"size":{"field":"s","type":"quantitative","scale":{"type":"pow","exponent":2,"domain":[0,200],"range":[0,14689]},"legend":null},"color":{"field":"v","type":"quantitative","scale":{"domain":[-20,-17.5,-12.5,-10,-7.5,-2.5,0],"range":["#00007F","#0000FF","#00FFFF","#00FF70","#FFFF00","#FF0000","#800000"]},"legend":{"orient":"none","legendX":776,"legendY":2,"direction":"vertical","title":null,"gradientLength":678,"gradientThickness":63,"gradientStrokeColor":"#333333","gradientStrokeWidth":1.5,"values":[-20,-15,-10,-5,0],"labelExpr":"''+datum.value","labelOffset":17,"labelBaseline":"middle","encoding":{"labels":{"baseline":{"value":"middle"}}}}}}},
{"data":{"name":"axesAC"},"mark":{"type":"rule","color":"#333333","strokeWidth":1.5},"encoding":{"x":{"field":"a","type":"quantitative"},"x2":{"field":"c"},"y":{"field":"b","type":"quantitative"},"y2":{"field":"d"}}},
{"data":{"name":"zAC"},"mark":{"type":"text","fontSize":38,"align":"right","color":"#404040"},"encoding":{"x":{"field":"a","type":"quantitative"},"y":{"field":"b","type":"quantitative"},"text":{"field":"t"}}},
{"data":{"name":"hAC"},"mark":{"type":"text","fontSize":38,"color":"#404040"},"encoding":{"x":{"field":"a","type":"quantitative"},"y":{"field":"b","type":"quantitative"},"text":{"field":"t"}}},
{"data":{"name":"rAC"},"mark":{"type":"text","fontSize":38,"angle":290,"color":"#404040"},"encoding":{"x":{"field":"a","type":"quantitative"},"y":{"field":"b","type":"quantitative"},"text":{"field":"t"}}},
{"data":{"name":"ztAC"},"mark":{"type":"text","fontSize":38,"angle":270,"color":"#404040"},"encoding":{"x":{"field":"a","type":"quantitative"},"y":{"field":"b","type":"quantitative"},"text":{"field":"t"}}},
{"data":{"values":[{"t":"(","a":704,"b":1495},{"t":")","a":820,"b":1495}]},"mark":{"type":"text","font":"Liberation Serif","fontSize":84,"color":"#000000"},"encoding":{"x":{"field":"a","type":"quantitative"},"y":{"field":"b","type":"quantitative"},"text":{"field":"t"}}},
{"data":{"values":[{"t":"a","a":762,"b":1495}]},"mark":{"type":"text","font":"Liberation Serif","fontSize":84,"fontWeight":"bold","color":"#000000"},"encoding":{"x":{"field":"a","type":"quantitative"},"y":{"field":"b","type":"quantitative"},"text":{"field":"t"}}}
]},
{"width":696,"height":900,"layer":[
{"data":{"name":"frameB"},"mark":{"type":"rule","color":"#dadada","strokeWidth":1.5},"encoding":{"x":{"field":"a","type":"quantitative","scale":{"domain":[80.85,1229.25],"nice":false,"zero":false},"axis":null},"x2":{"field":"c"},"y":{"field":"b","type":"quantitative","scale":{"domain":[1504,34.3],"nice":false,"zero":false},"axis":null},"y2":{"field":"d"}}},
{"data":{"name":"blobsB"},"mark":{"type":"circle","opacity":1},"encoding":{"x":{"field":"a","type":"quantitative"},"y":{"field":"b","type":"quantitative"},"size":{"field":"s","type":"quantitative","scale":{"type":"pow","exponent":2,"domain":[0,200],"range":[0,14689]},"legend":null},"color":{"field":"v","type":"quantitative","scale":{"domain":[-20,-17.5,-12.5,-10,-7.5,-2.5,0],"range":["#00007F","#0000FF","#00FFFF","#00FF70","#FFFF00","#FF0000","#800000"]},"legend":null}}},
{"data":{"name":"axesB"},"mark":{"type":"rule","color":"#333333","strokeWidth":1.5},"encoding":{"x":{"field":"a","type":"quantitative"},"x2":{"field":"c"},"y":{"field":"b","type":"quantitative"},"y2":{"field":"d"}}},
{"data":{"name":"zB"},"mark":{"type":"text","fontSize":38,"align":"right","color":"#404040"},"encoding":{"x":{"field":"a","type":"quantitative"},"y":{"field":"b","type":"quantitative"},"text":{"field":"t"}}},
{"data":{"name":"hB"},"mark":{"type":"text","fontSize":38,"color":"#404040"},"encoding":{"x":{"field":"a","type":"quantitative"},"y":{"field":"b","type":"quantitative"},"text":{"field":"t"}}},
{"data":{"name":"rB"},"mark":{"type":"text","fontSize":38,"angle":290,"color":"#404040"},"encoding":{"x":{"field":"a","type":"quantitative"},"y":{"field":"b","type":"quantitative"},"text":{"field":"t"}}},
{"data":{"name":"xB"},"mark":{"type":"text","fontSize":38,"angle":60,"color":"#404040"},"encoding":{"x":{"field":"a","type":"quantitative"},"y":{"field":"b","type":"quantitative"},"text":{"field":"t"}}},
{"data":{"name":"ztB"},"mark":{"type":"text","fontSize":38,"angle":270,"color":"#404040"},"encoding":{"x":{"field":"a","type":"quantitative"},"y":{"field":"b","type":"quantitative"},"text":{"field":"t"}}},
{"data":{"values":[{"t":"(","a":706,"b":1495},{"t":")","a":830,"b":1495}]},"mark":{"type":"text","font":"Liberation Serif","fontSize":84,"color":"#000000"},"encoding":{"x":{"field":"a","type":"quantitative"},"y":{"field":"b","type":"quantitative"},"text":{"field":"t"}}},
{"data":{"values":[{"t":"b","a":768,"b":1495}]},"mark":{"type":"text","font":"Liberation Serif","fontSize":84,"fontWeight":"bold","color":"#000000"},"encoding":{"x":{"field":"a","type":"quantitative"},"y":{"field":"b","type":"quantitative"},"text":{"field":"t"}}}
]},
{"width":696,"height":900,"layer":[
{"data":{"name":"frameAC"},"mark":{"type":"rule","color":"#dadada","strokeWidth":1.5},"encoding":{"x":{"field":"a","type":"quantitative","scale":{"domain":[75.9,1224.3],"nice":false,"zero":false},"axis":null},"x2":{"field":"c"},"y":{"field":"b","type":"quantitative","scale":{"domain":[1504,34.3],"nice":false,"zero":false},"axis":null},"y2":{"field":"d"}}},
{"data":{"name":"blobsC"},"mark":{"type":"circle","opacity":1},"encoding":{"x":{"field":"a","type":"quantitative"},"y":{"field":"b","type":"quantitative"},"size":{"field":"s","type":"quantitative","scale":{"type":"pow","exponent":2,"domain":[0,200],"range":[0,14689]},"legend":null},"color":{"field":"v","type":"quantitative","scale":{"domain":[-20,-17.5,-12.5,-10,-7.5,-2.5,0],"range":["#00007F","#0000FF","#00FFFF","#00FF70","#FFFF00","#FF0000","#800000"]},"legend":{"orient":"none","legendX":777,"legendY":2,"direction":"vertical","title":null,"gradientLength":678,"gradientThickness":63,"gradientStrokeColor":"#333333","gradientStrokeWidth":1.5,"values":[-20,-15,-10,-5,0],"labelExpr":"''+datum.value","labelOffset":17,"labelBaseline":"middle","encoding":{"labels":{"baseline":{"value":"middle"}}}}}}},
{"data":{"name":"axesAC"},"mark":{"type":"rule","color":"#333333","strokeWidth":1.5},"encoding":{"x":{"field":"a","type":"quantitative"},"x2":{"field":"c"},"y":{"field":"b","type":"quantitative"},"y2":{"field":"d"}}},
{"data":{"name":"zAC"},"mark":{"type":"text","fontSize":38,"align":"right","color":"#404040"},"encoding":{"x":{"field":"a","type":"quantitative"},"y":{"field":"b","type":"quantitative"},"text":{"field":"t"}}},
{"data":{"name":"hAC"},"mark":{"type":"text","fontSize":38,"color":"#404040"},"encoding":{"x":{"field":"a","type":"quantitative"},"y":{"field":"b","type":"quantitative"},"text":{"field":"t"}}},
{"data":{"name":"rAC"},"mark":{"type":"text","fontSize":38,"angle":290,"color":"#404040"},"encoding":{"x":{"field":"a","type":"quantitative"},"y":{"field":"b","type":"quantitative"},"text":{"field":"t"}}},
{"data":{"name":"ztAC"},"mark":{"type":"text","fontSize":38,"angle":270,"color":"#404040"},"encoding":{"x":{"field":"a","type":"quantitative"},"y":{"field":"b","type":"quantitative"},"text":{"field":"t"}}},
{"data":{"values":[{"t":"(","a":709,"b":1495},{"t":")","a":817,"b":1495}]},"mark":{"type":"text","font":"Liberation Serif","fontSize":84,"color":"#000000"},"encoding":{"x":{"field":"a","type":"quantitative"},"y":{"field":"b","type":"quantitative"},"text":{"field":"t"}}},
{"data":{"values":[{"t":"c","a":763,"b":1495}]},"mark":{"type":"text","font":"Liberation Serif","fontSize":84,"fontWeight":"bold","color":"#000000"},"encoding":{"x":{"field":"a","type":"quantitative"},"y":{"field":"b","type":"quantitative"},"text":{"field":"t"}}}
]},
{"width":696,"height":695,"view":{"fill":"#3F20A8"},"resolve":{"axis":{"x":"independent","y":"independent"}},"layer":[
{"data":{"name":"heatD"},"mark":{"type":"rect","cornerRadius":30},"encoding":{"x":{"field":"a","type":"quantitative","scale":{"domain":[-0.5,0.5],"nice":false,"zero":false},"axis":{"values":[-0.5,-0.25,0,0.25,0.5],"labelExpr":"''+datum.value","title":"X (m)","tickSize":-7,"labelPadding":31,"titlePadding":22,"domainColor":"#8a8a8a"}},"x2":{"field":"b"},"y":{"field":"c","type":"quantitative","scale":{"domain":[-0.5,0.5],"nice":false,"zero":false},"axis":{"values":[-0.5,-0.25,0,0.25,0.5],"labelExpr":"''+datum.value","title":"Z (m)","tickSize":-7,"labelPadding":25,"titlePadding":17,"domainColor":"#8a8a8a"}},"y2":{"field":"d"},"color":{"field":"v","type":"quantitative","scale":{"domain":[-30,-27,-25,-23,-22.5,-20,-15,-10.2,-9.8,-7,-5,-2.5,0],"range":["#3F20A8","#4030D0","#4050F0","#3D60F8","#0070FF","#00A0E0","#00B4B0","#00C878","#70C840","#C4B81A","#FBB42D","#FFCC00","#FAFB0E"]},"legend":{"orient":"none","legendX":752,"legendY":0,"direction":"vertical","title":null,"gradientLength":695,"gradientThickness":59,"gradientStrokeColor":"#8a8a8a","gradientStrokeWidth":1.5,"values":[-30,-25,-20,-15,-10,-5,0],"labelExpr":"''+datum.value","labelOffset":18,"labelBaseline":"middle","encoding":{"labels":{"baseline":{"value":"middle"}}}}}}},
{"data":{"values":[{"t":"(","a":0.0441,"c":-0.78},{"t":")","a":0.1513,"c":-0.78}]},"mark":{"type":"text","font":"Liberation Serif","fontSize":84,"color":"#000000"},"encoding":{"x":{"field":"a","type":"quantitative","axis":{"orient":"top","values":[-0.5,-0.25,0,0.25,0.5],"labels":false,"title":null,"tickSize":-7,"domainColor":"#8a8a8a"}},"y":{"field":"c","type":"quantitative","axis":{"orient":"right","values":[-0.5,-0.25,0,0.25,0.5],"labels":false,"title":null,"tickSize":-7,"domainColor":"#8a8a8a"}},"text":{"field":"t"}}},
{"data":{"values":[{"t":"d","a":0.0977,"c":-0.78}]},"mark":{"type":"text","font":"Liberation Serif","fontSize":84,"fontWeight":"bold","color":"#000000"},"encoding":{"x":{"field":"a","type":"quantitative","axis":null},"y":{"field":"c","type":"quantitative","axis":null},"text":{"field":"t"}}}
]},
{"width":696,"height":695,"view":{"fill":"#3F20A8"},"resolve":{"axis":{"x":"independent","y":"independent"}},"layer":[
{"data":{"name":"heatE"},"mark":{"type":"rect","cornerRadius":30},"encoding":{"x":{"field":"a","type":"quantitative","scale":{"domain":[-0.5,0.5],"nice":false,"zero":false},"axis":{"values":[-0.5,-0.25,0,0.25,0.5],"labelExpr":"''+datum.value","title":"Y (m)","tickSize":-7,"labelPadding":31,"titlePadding":22,"domainColor":"#8a8a8a"}},"x2":{"field":"b"},"y":{"field":"c","type":"quantitative","scale":{"domain":[-0.5,0.5],"nice":false,"zero":false},"axis":{"values":[-0.5,-0.25,0,0.25,0.5],"labelExpr":"''+datum.value","title":"Z (m)","tickSize":-7,"labelPadding":25,"titlePadding":17,"domainColor":"#8a8a8a"}},"y2":{"field":"d"},"color":{"field":"v","type":"quantitative","scale":{"domain":[-30,-27,-25,-23,-22.5,-20,-15,-10.2,-9.8,-7,-5,-2.5,0],"range":["#3F20A8","#4030D0","#4050F0","#3D60F8","#0070FF","#00A0E0","#00B4B0","#00C878","#70C840","#C4B81A","#FBB42D","#FFCC00","#FAFB0E"]},"legend":{"orient":"none","legendX":752,"legendY":0,"direction":"vertical","title":null,"gradientLength":695,"gradientThickness":59,"gradientStrokeColor":"#8a8a8a","gradientStrokeWidth":1.5,"values":[-30,-25,-20,-15,-10,-5,0],"labelExpr":"''+datum.value","labelOffset":18,"labelBaseline":"middle","encoding":{"labels":{"baseline":{"value":"middle"}}}}}}},
{"data":{"values":[{"t":"(","a":0.0509,"c":-0.78},{"t":")","a":0.1445,"c":-0.78}]},"mark":{"type":"text","font":"Liberation Serif","fontSize":84,"color":"#000000"},"encoding":{"x":{"field":"a","type":"quantitative","axis":{"orient":"top","values":[-0.5,-0.25,0,0.25,0.5],"labels":false,"title":null,"tickSize":-7,"domainColor":"#8a8a8a"}},"y":{"field":"c","type":"quantitative","axis":{"orient":"right","values":[-0.5,-0.25,0,0.25,0.5],"labels":false,"title":null,"tickSize":-7,"domainColor":"#8a8a8a"}},"text":{"field":"t"}}},
{"data":{"values":[{"t":"e","a":0.0977,"c":-0.78}]},"mark":{"type":"text","font":"Liberation Serif","fontSize":84,"fontWeight":"bold","color":"#000000"},"encoding":{"x":{"field":"a","type":"quantitative","axis":null},"y":{"field":"c","type":"quantitative","axis":null},"text":{"field":"t"}}}
]},
{"width":696,"height":695,"view":{"fill":"#3F20A8"},"resolve":{"axis":{"x":"independent","y":"independent"}},"layer":[
{"data":{"name":"heatF"},"mark":{"type":"rect","cornerRadius":30},"encoding":{"x":{"field":"a","type":"quantitative","scale":{"domain":[-0.5,0.5],"nice":false,"zero":false},"axis":{"values":[-0.5,-0.25,0,0.25,0.5],"labelExpr":"''+datum.value","title":"X (m)","tickSize":-7,"labelPadding":31,"titlePadding":22,"domainColor":"#333333"}},"x2":{"field":"b"},"y":{"field":"c","type":"quantitative","scale":{"domain":[-0.5,0.5],"nice":false,"zero":false},"axis":{"values":[-0.5,-0.25,0,0.25,0.5],"labelExpr":"''+datum.value","title":"Y (m)","tickSize":-7,"labelPadding":25,"titlePadding":17,"domainColor":"#333333"}},"y2":{"field":"d"},"color":{"field":"v","type":"quantitative","scale":{"domain":[-30,-27,-25,-23,-22.5,-20,-15,-10.2,-9.8,-7,-5,-2.5,0],"range":["#3F20A8","#4030D0","#4050F0","#3D60F8","#0070FF","#00A0E0","#00B4B0","#00C878","#70C840","#C4B81A","#FBB42D","#FFCC00","#FAFB0E"]},"legend":{"orient":"none","legendX":752,"legendY":0,"direction":"vertical","title":null,"gradientLength":695,"gradientThickness":59,"gradientStrokeColor":"#333333","gradientStrokeWidth":1.5,"values":[-30,-25,-20,-15,-10,-5,0],"labelExpr":"''+datum.value","labelOffset":18,"labelBaseline":"middle","encoding":{"labels":{"baseline":{"value":"middle"}}}}}}},
{"data":{"values":[{"t":"(","a":0.0575,"c":-0.78},{"t":")","a":0.1379,"c":-0.78}]},"mark":{"type":"text","font":"Liberation Serif","fontSize":84,"color":"#000000"},"encoding":{"x":{"field":"a","type":"quantitative","axis":{"orient":"top","values":[-0.5,-0.25,0,0.25,0.5],"labels":false,"title":null,"tickSize":-7,"domainColor":"#333333"}},"y":{"field":"c","type":"quantitative","axis":{"orient":"right","values":[-0.5,-0.25,0,0.25,0.5],"labels":false,"title":null,"tickSize":-7,"domainColor":"#333333"}},"text":{"field":"t"}}},
{"data":{"values":[{"t":"f","a":0.0977,"c":-0.78}]},"mark":{"type":"text","font":"Liberation Serif","fontSize":84,"fontWeight":"bold","color":"#000000"},"encoding":{"x":{"field":"a","type":"quantitative","axis":null},"y":{"field":"c","type":"quantitative","axis":null},"text":{"field":"t"}}}
]}
],
"resolve":{"scale":{"color":"independent","size":"independent"},"legend":{"color":"independent"}}}
